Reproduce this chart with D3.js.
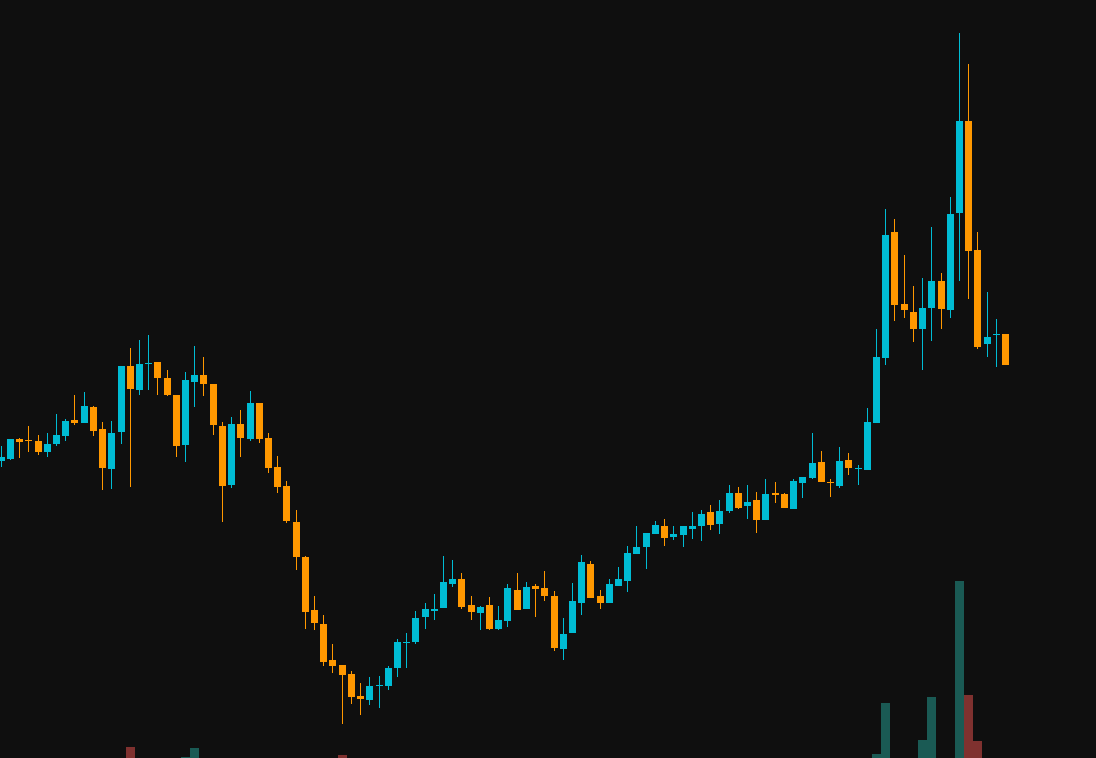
<!DOCTYPE html>
<html>
<head>
<meta charset="utf-8">
<script src="https://cdn.jsdelivr.net/npm/d3@7"></script>
<style>
    html, body { margin: 0; padding: 0; background: #0f0f0f; overflow: hidden; }
    svg { display: block; }
</style>
</head>
<body>
<svg></svg>
<script>
// daily bars, oldest first
var opens = [33.9,34.1,36.1,36.0,35.9,34.8,35.6,36.4,38.0,37.7,
             39.3,37.1,33.1,36.8,43.4,41.0,43.6,43.8,42.2,40.5,
             35.5,41.8,42.5,41.6,37.4,31.5,37.6,36.1,39.7,36.2,
             33.3,31.4,27.8,24.3,19.0,17.6,14.0,13.5,12.6,10.4,
             10.0,11.4,11.4,13.2,15.7,15.8,18.3,18.9,19.2,21.6,
             22.1,19.5,18.7,19.5,17.1,17.9,21.0,19.1,21.4,21.2,
             20.4,15.1,16.7,19.7,23.6,20.4,19.7,21.4,21.9,24.6,
             25.3,26.6,27.4,26.3,26.5,27.1,27.4,28.8,27.6,28.9,
             30.7,29.4,30.0,28.0,30.7,30.6,29.1,31.7,32.2,33.8,
             31.8,31.4,34.0,33.1,33.0,37.7,44.2,56.8,49.6,48.8,
             47.1,49.2,51.9,49.0,58.7,67.9,55.0,45.6,46.5,46.6]
var highs = [35.4,36.1,36.2,37.4,36.5,36.7,38.6,38.1,40.5,40.8,
             39.4,37.8,37.9,43.4,45.2,46.0,46.5,43.8,43.0,40.5,
             42.8,45.4,44.3,41.6,37.8,38.3,39.0,40.9,39.7,36.7,
             34.4,31.9,29.0,24.4,20.4,18.5,15.6,13.5,12.9,11.7,
             12.3,12.4,13.4,16.1,16.7,18.9,19.7,20.6,24.4,24.0,
             22.7,20.4,19.4,20.3,19.4,21.6,22.7,21.8,21.6,22.9,
             20.9,18.2,21.7,24.5,23.9,21.0,22.1,23.3,25.4,27.4,
             26.7,27.9,28.1,27.4,27.4,28.8,29.0,29.5,30.0,31.5,
             31.3,31.5,30.8,32.1,31.8,30.7,32.1,32.3,36.7,34.9,
             32.1,35.3,34.7,33.5,39.2,47.1,59.1,58.1,54.5,51.4,
             52.2,57.3,52.7,60.3,76.7,73.6,56.8,50.8,48.1,46.6]
var lows = [33.3,34.0,34.2,34.8,34.5,34.3,35.4,35.9,37.5,37.7,
            36.4,31.0,31.1,35.6,31.3,40.5,41.0,40.5,40.4,34.3,
            33.8,39.3,40.4,36.5,27.8,31.2,34.3,35.9,35.7,32.7,
            30.7,27.7,23.0,17.1,17.0,13.4,12.7,7.6,9.6,8.5,
            9.5,9.2,11.0,12.3,13.2,15.6,17.1,18.0,19.2,21.3,
            19.1,18.0,17.0,17.0,17.0,17.3,19.0,19.1,18.3,19.9,
            14.9,14.0,16.7,18.5,20.2,19.1,19.7,21.4,20.8,24.6,
            23.1,26.6,25.4,26.0,25.3,26.1,25.9,27.0,26.6,28.7,
            29.1,28.1,26.7,28.0,29.7,29.2,29.1,30.2,32.1,31.8,
            30.3,31.2,32.5,31.5,33.0,37.7,43.5,47.9,48.2,45.8,
            43.0,45.9,47.1,48.2,51.9,50.1,45.1,44.3,43.3,43.5]
var closes = [34.3,36.1,35.8,35.9,34.8,35.6,36.5,37.9,37.7,39.4,
              36.9,33.2,36.7,43.4,41.1,43.6,43.7,42.2,40.5,35.4,
              42.0,42.5,41.6,37.5,31.4,37.6,36.2,39.7,36.1,33.2,
              31.3,27.9,24.3,18.8,17.7,13.8,13.4,12.5,10.3,10.1,
              11.4,11.5,13.2,15.8,15.8,18.2,19.1,19.1,21.8,22.1,
              19.3,18.8,19.3,17.1,18.0,21.2,19.0,21.3,21.1,20.4,
              15.2,16.6,19.9,23.8,20.2,19.7,21.6,22.1,24.7,25.3,
              26.7,27.5,26.2,26.6,27.4,27.4,28.6,27.5,28.9,30.7,
              29.2,29.8,28.0,30.6,30.5,29.2,31.9,32.3,33.7,31.8,
              31.7,33.9,33.2,33.2,37.8,44.3,56.5,49.5,49.0,47.1,
              49.2,51.9,49.1,58.6,67.9,54.9,45.3,46.3,46.6,43.5]
// volume (M) only where the column shows above the bottom edge
var volumes = {14: 5.3, 20: 4.3, 21: 5.2, 37: 4.5, 95: 4.6, 96: 9.7,
               100: 6.0, 101: 10.3, 104: 21.9, 105: 10.5, 106: 5.9}

var screen = {width: 1096, height: 758}
var upColor = "#00bcd4"
var downColor = "#ff9800"
var volUp = "rgba(38,166,154,0.5)"
var volDown = "rgba(239,83,80,0.5)"

var bars = opens.map(function(o, i)
{
    return {i: i, open: o, high: highs[i], low: lows[i], close: closes[i],
            volume: volumes[i] === undefined ? null : volumes[i]}
})

var setup = function(bars)
{
    var svg = d3.select("svg")
    .attr("width", screen.width)
    .attr("height", screen.height)

    svg.append("rect")
    .attr("width", screen.width)
    .attr("height", screen.height)
    .attr("fill", "#0f0f0f")

    var xScale = d3.scaleBand()
    .domain(bars.map(function(d) { return d.i }))
    .range([-3.32, 1010.1])
    .paddingInner(0.24)
    .paddingOuter(0.12)

    var yScale = d3.scaleLinear()
    .domain([0, 80])
    .range([800, 0])

    // volume pane sits at the bottom, its base is below the frame
    var vScale = d3.scaleLinear()
    .domain([0, 21.9])
    .range([800, 581])

    var left = function(d) { return Math.round(xScale(d.i)) }
    var isUp = function(d) { return d.close >= d.open }

    svg.append("g")
    .attr("id", "volume")
    .selectAll("rect")
    .data(bars.filter(function(d) { return d.volume !== null }))
    .enter()
    .append("rect")
    .attr("shape-rendering", "crispEdges")
    .attr("x", function(d) { return left(d) - 1 })
    .attr("width", 9)
    .attr("y", function(d) { return vScale(d.volume) })
    .attr("height", function(d) { return vScale(0) - vScale(d.volume) })
    .attr("fill", function(d) { return isUp(d) ? volUp : volDown })

    var candles = svg.append("g")
    .attr("id", "candles")
    .selectAll("g")
    .data(bars)
    .enter()
    .append("g")
    .attr("fill", function(d) { return isUp(d) ? upColor : downColor })
    .attr("shape-rendering", "crispEdges")

    candles.append("rect")
    .attr("x", function(d) { return left(d) + 3 })
    .attr("width", 1)
    .attr("y", function(d) { return yScale(d.high) })
    .attr("height", function(d) { return Math.max(1, yScale(d.low) - yScale(d.high)) })

    candles.append("rect")
    .attr("x", left)
    .attr("width", 7)
    .attr("y", function(d) { return yScale(Math.max(d.open, d.close)) })
    .attr("height", function(d)
    {
        return Math.max(1, Math.abs(yScale(d.open) - yScale(d.close)))
    })
}

setup(bars)
</script>
</body>
</html>
